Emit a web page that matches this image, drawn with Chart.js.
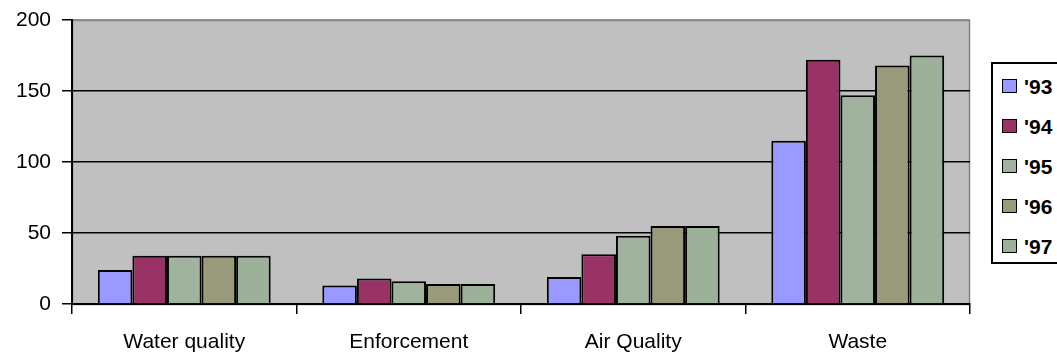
<!DOCTYPE html>
<html>
<head>
<meta charset="utf-8">
<script src="https://cdn.jsdelivr.net/npm/chart.js@4/dist/chart.umd.min.js"></script>
<style>
  html, body { margin: 0; padding: 0; background: #fff; }
  #wrap { position: relative; width: 1057px; height: 354px; overflow: hidden; }
  #legend {
    position: absolute; left: 991px; top: 62px; width: 90px; height: 202px;
    border: 2px solid #000; background: #fff; box-sizing: border-box;
    font: bold 21px "Liberation Sans", Arial, sans-serif;
  }
  .item { position: absolute; left: 9px; height: 15px; line-height: 15px; }
  .sw { position: absolute; left: 0; top: 0; width: 13px; height: 12px; border: 1.5px solid #000; }
  .lb { position: absolute; left: 22px; top: 0; }
</style>
</head>
<body>
<div id="wrap">
  <canvas id="chart" width="1057" height="354"></canvas>
  <div id="legend"></div>
</div>
<script>
const categories = ['Water quality', 'Enforcement', 'Air Quality', 'Waste'];
const years = ["'93", "'94", "'95", "'96", "'97"];
const v93 = [24, 13, 19, 115];
const v94 = [34, 18, 35, 172];
const v95 = [34, 16, 48, 147];
const v96 = [34, 14, 55, 168];
const v97 = [34, 14, 55, 175];
const yTicks = [0, 50, 100, 150, 200];
const colors = ['#9999FF', '#993366', '#A1B39F', '#99997B', '#9CB09A'];

const seriesValues = [v93, v94, v95, v96, v97];
const FONT = '"Liberation Sans", Arial, sans-serif';

const plotBg = {
    id: 'plotBg',
    beforeDraw(chart) {
        const { ctx, chartArea: a } = chart;
        ctx.save();
        ctx.fillStyle = '#C0C0C0';
        ctx.fillRect(a.left, a.top, a.right - a.left, a.bottom - a.top);
        ctx.strokeStyle = '#808080';
        ctx.lineWidth = 1.5;
        ctx.strokeRect(a.left + 0.5, a.top + 0.5, a.right - a.left - 1, a.bottom - a.top);
        ctx.restore();
    }
};

new Chart(document.getElementById('chart'), {
    type: 'bar',
    data: {
        labels: categories,
        datasets: years.map((y, i) => ({
            label: y,
            data: seriesValues[i],
            backgroundColor: colors[i],
            borderColor: '#000',
            borderWidth: 2,
            categoryPercentage: 0.77,
            barPercentage: 1.0
        }))
    },
    options: {
        responsive: false,
        animation: false,
        layout: { padding: { top: 20, right: 87, left: 0, bottom: 0 } },
        plugins: { legend: { display: false }, tooltip: { enabled: false } },
        scales: {
            x: {
                afterFit: s => { s.height = 50; },
                grid: { offset: true, drawOnChartArea: false, tickLength: 10, tickColor: '#000', lineWidth: 1.5 },
                border: { color: '#000', width: 2 },
                ticks: { color: '#000', font: { family: FONT, size: 21 }, padding: 16 }
            },
            y: {
                min: 0,
                max: 200,
                afterFit: s => { s.width = 72; },
                afterBuildTicks: s => { s.ticks = yTicks.map(v => ({ value: v })); },
                grid: {
                    color: c => (c.tick && c.tick.value === 200) ? '#909090' : '#000',
                    tickColor: '#000',
                    tickLength: 10,
                    lineWidth: 1.5
                },
                border: { color: '#000', width: 2 },
                ticks: { color: '#000', font: { family: FONT, size: 21, lineHeight: 0.8 }, padding: 11 }
            }
        }
    },
    plugins: [plotBg]
});

const legend = document.getElementById('legend');
years.forEach((y, i) => {
    const item = document.createElement('div');
    item.className = 'item';
    item.style.top = (15 + i * 40) + 'px';
    item.innerHTML = `<span class="sw" style="background:${colors[i]}"></span><span class="lb">${y}</span>`;
    legend.appendChild(item);
});
</script>
</body>
</html>
